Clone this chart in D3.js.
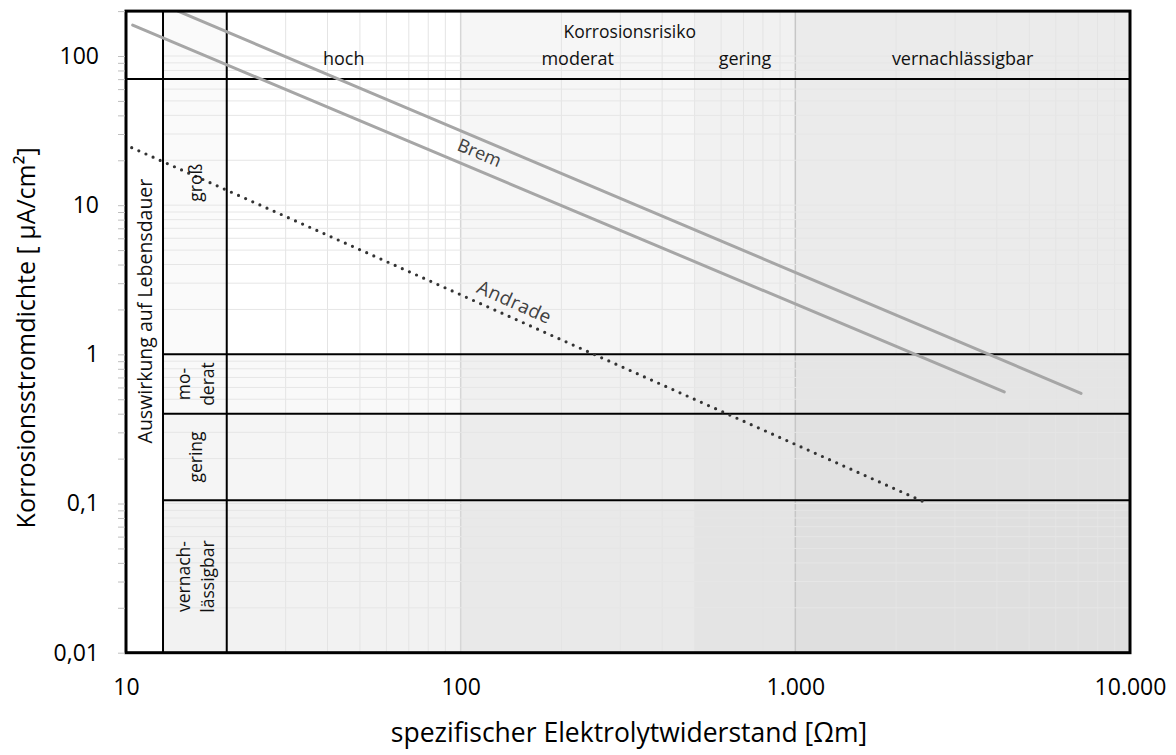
<!DOCTYPE html>
<html>
<head>
<meta charset="utf-8">
<script src="https://cdn.jsdelivr.net/npm/d3@7"></script>
<style>
    body { margin: 0; background: #fff; }
    svg { font-family: "Open Sans", sans-serif; }
</style>
</head>
<body>
<svg id="chart" width="1176" height="755"></svg>
<script>

// ---- data ----
const xDomain = [10, 10000];
const yDomain = [0.01, 200];

const xTicks = [10, 100, 1000, 10000];
const xTickLabels = ["10", "100", "1.000", "10.000"];
const yTicks = [0.01, 0.1, 1, 10, 100];
const yTickLabels = ["0,01", "0,1", "1", "10", "100"];

// Korrosionsrisiko (columns, by resistivity)
const riskNames = ["hoch", "moderat", "gering", "vernachlässigbar"];
const riskBounds = [20, 100, 500, 1000, 10000];

// Auswirkung auf Lebensdauer (rows, by current density)
const lifeNames = [["groß"], ["mo-", "derat"], ["gering"], ["vernach-", "lässigbar"]];
const lifeBounds = [200, 1, 0.4, 0.105, 0.01];

const headerLimit = 70;          // lower edge of the header band
const columnBounds = [12.9, 20]; // label column for the rows

// curves (resistivity Ωm, current density µA/cm²)
const bremUpper = [{ r: 14.3, i: 200 }, { r: 7140, i: 0.548 }];
const bremLower = [{ r: 10.47, i: 161 }, { r: 4210, i: 0.56 }];
const andrade = [{ r: 10.4, i: 24.3 }, { r: 2510, i: 0.099 }];

// ---- styles ----
const riskShade = [0, 0.035, 0.055, 0.078];
const lifeShade = [0, 0.025, 0.04, 0.05];

const svg = d3.select("#chart");

const x = d3.scaleLog().domain(xDomain).range([126, 1130]);
const y = d3.scaleLog().domain(yDomain).range([652.7, 11.1]);

const pLeft = x(xDomain[0]), pRight = x(xDomain[1]);
const pTop = y(yDomain[1]), pBottom = y(yDomain[0]);

svg.append("defs").append("clipPath").attr("id", "plot-clip")
    .append("rect")
    .attr("x", pLeft).attr("y", pTop)
    .attr("width", pRight - pLeft).attr("height", pBottom - pTop);

// plot background
svg.append("rect")
    .attr("x", pLeft).attr("y", pTop)
    .attr("width", pRight - pLeft).attr("height", pBottom - pTop)
    .attr("fill", "#fff");

// column shading (risk)
riskNames.forEach((name, k) => {
    svg.append("rect")
        .attr("x", x(riskBounds[k]))
        .attr("y", pTop)
        .attr("width", x(riskBounds[k + 1]) - x(riskBounds[k]))
        .attr("height", pBottom - pTop)
        .attr("fill", "#000")
        .attr("fill-opacity", riskShade[k]);
});

// row shading (lifetime)
lifeNames.forEach((name, k) => {
    let y0 = k === 0 ? y(headerLimit) : y(lifeBounds[k]);
    svg.append("rect")
        .attr("x", x(columnBounds[0]))
        .attr("y", y0)
        .attr("width", pRight - x(columnBounds[0]))
        .attr("height", y(lifeBounds[k + 1]) - y0)
        .attr("fill", "#000")
        .attr("fill-opacity", lifeShade[k]);
});

// the "groß" label cell is lightly tinted
svg.append("rect")
    .attr("x", x(columnBounds[0]))
    .attr("y", pTop)
    .attr("width", x(columnBounds[1]) - x(columnBounds[0]))
    .attr("height", y(lifeBounds[1]) - pTop)
    .attr("fill", "#000")
    .attr("fill-opacity", 0.02);

// gridlines
let minorX = [];
for (let d = 10; d < 10000; d *= 10) for (let m = 1; m < 10; m++) minorX.push(d * m);
minorX.push(10000);
let minorY = [];
for (let d = 0.01; d < 200; d *= 10) for (let m = 1; m < 10; m++) if (d * m <= 200) minorY.push(+(d * m).toPrecision(3));

const grid = svg.append("g").attr("class", "grid");
grid.selectAll(".gx")
    .data(minorX.filter(v => x(v) > x(columnBounds[0]) + 1))
    .join("line")
    .attr("x1", d => x(d)).attr("x2", d => x(d))
    .attr("y1", pTop).attr("y2", pBottom)
    .attr("stroke", d => d === 100 ? "#d6d6d6" : d === 1000 ? "#c6c6c6" : "#e4e4e4")
    .attr("stroke-width", d => (d === 100 || d === 1000) ? 1.5 : 1);

grid.selectAll(".gy")
    .data(minorY)
    .join("line")
    .attr("x1", x(columnBounds[0])).attr("x2", pRight)
    .attr("y1", d => y(d)).attr("y2", d => y(d))
    .attr("stroke", "#e6e6e6")
    .attr("stroke-width", 1);

// black frame lines of the table
const frame = svg.append("g").attr("stroke", "#000").attr("fill", "none");
frame.append("line")
    .attr("x1", pLeft).attr("x2", pRight)
    .attr("y1", y(headerLimit)).attr("y2", y(headerLimit))
    .attr("stroke-width", 2);
columnBounds.forEach(v => {
    frame.append("line")
        .attr("x1", x(v)).attr("x2", x(v))
        .attr("y1", pTop).attr("y2", pBottom)
        .attr("stroke-width", 2);
});
lifeBounds.slice(1, 4).forEach(v => {
    frame.append("line")
        .attr("x1", x(columnBounds[0])).attr("x2", pRight)
        .attr("y1", y(v)).attr("y2", y(v))
        .attr("stroke-width", 2);
});

// curves
const line = d3.line().x(d => x(d.r)).y(d => y(d.i));
const curves = svg.append("g").attr("clip-path", "url(#plot-clip)");

[bremUpper, bremLower].forEach(data => {
    curves.append("path")
        .datum(data)
        .attr("d", line)
        .attr("fill", "none")
        .attr("stroke", "#a6a6a6")
        .attr("stroke-width", 3)
        .attr("stroke-linecap", "round");
});

curves.append("path")
    .datum(andrade)
    .attr("d", line)
    .attr("fill", "none")
    .attr("stroke", "#333")
    .attr("stroke-width", 3.2)
    .attr("stroke-linecap", "round")
    .attr("stroke-dasharray", "0,7.8");

// curve labels, rotated to follow the lines
function angleOf(data) {
    let dx = x(data[1].r) - x(data[0].r);
    let dy = y(data[1].i) - y(data[0].i);
    return Math.atan2(dy, dx) * 180 / Math.PI;
}

svg.append("text")
    .attr("transform", `translate(${x(114)}, ${y(22.7)}) rotate(${angleOf(bremLower)})`)
    .attr("text-anchor", "middle")
    .attr("dominant-baseline", "central")
    .attr("fill", "#404040")
    .style("font-size", "18px")
    .text("Brem");

svg.append("text")
    .attr("transform", `translate(${x(145)}, ${y(2.25)}) rotate(${angleOf(andrade)})`)
    .attr("text-anchor", "middle")
    .attr("dominant-baseline", "central")
    .attr("fill", "#404040")
    .style("font-size", "19px")
    .style("letter-spacing", "0.5px")
    .text("Andrade");

// header band labels
svg.append("text")
    .attr("x", x(320)).attr("y", 38)
    .attr("text-anchor", "middle")
    .attr("fill", "#111")
    .style("font-size", "17.5px")
    .text("Korrosionsrisiko");

riskNames.forEach((name, k) => {
    svg.append("text")
        .attr("x", x(Math.sqrt(riskBounds[k] * riskBounds[k + 1])))
        .attr("y", 65)
        .attr("text-anchor", "middle")
        .attr("fill", "#111")
        .style("font-size", "18px")
        .text(name);
});

// row labels (rotated)
const colMid = x(Math.sqrt(columnBounds[0] * columnBounds[1]));
lifeNames.forEach((lines, k) => {
    const cy = y(Math.sqrt(lifeBounds[k] * lifeBounds[k + 1]));
    lines.forEach((txt, j) => {
        const off = (j - (lines.length - 1) / 2) * 24;
        svg.append("text")
            .attr("transform", `translate(${colMid + off}, ${cy}) rotate(-90)`)
            .attr("text-anchor", "middle")
            .attr("dominant-baseline", "central")
            .attr("fill", "#111")
            .style("font-size", "17.5px")
            .text(txt);
    });
});

svg.append("text")
    .attr("transform", `translate(${(pLeft + x(columnBounds[0])) / 2}, ${y(1.95)}) rotate(-90)`)
    .attr("text-anchor", "middle")
    .attr("dominant-baseline", "central")
    .attr("fill", "#111")
    .style("font-size", "19.5px")
    .text("Auswirkung auf Lebensdauer");

// outer border
svg.append("rect")
    .attr("x", pLeft).attr("y", pTop)
    .attr("width", pRight - pLeft).attr("height", pBottom - pTop)
    .attr("fill", "none")
    .attr("stroke", "#000")
    .attr("stroke-width", 3);

// axes
const yAxis = d3.axisLeft(y)
    .tickValues(minorY)
    .tickSizeInner(7)
    .tickSizeOuter(0)
    .tickPadding(19)
    .tickFormat(d => {
        let k = yTicks.indexOf(d);
        return k >= 0 ? yTickLabels[k] : "";
    });

svg.append("g")
    .attr("transform", `translate(${pLeft - 1}, 0)`)
    .call(yAxis)
    .call(g => g.select(".domain").remove())
    .call(g => g.selectAll(".tick line").attr("stroke", "#bfbfbf"))
    .call(g => g.selectAll(".tick text")
        .attr("fill", "#000")
        .style("font-size", "23px")
        .style("font-family", "Open Sans, sans-serif"));

const xAxis = d3.axisBottom(x)
    .tickValues(xTicks)
    .tickSize(0)
    .tickPadding(26)
    .tickFormat((d, k) => xTickLabels[k]);

svg.append("g")
    .attr("transform", `translate(0, ${pBottom})`)
    .call(xAxis)
    .call(g => g.select(".domain").remove())
    .call(g => g.selectAll(".tick text")
        .attr("fill", "#000")
        .style("font-size", "23px")
        .style("font-family", "Open Sans, sans-serif"));

// axis titles
svg.append("text")
    .attr("x", (pLeft + pRight) / 2 + 1)
    .attr("y", 742)
    .attr("text-anchor", "middle")
    .attr("fill", "#000")
    .style("font-size", "26.5px")
    .text("spezifischer Elektrolytwiderstand [Ωm]");

svg.append("text")
    .attr("transform", `translate(35, ${(pTop + pBottom) / 2 + 6}) rotate(-90)`)
    .attr("text-anchor", "middle")
    .attr("fill", "#000")
    .style("font-size", "25px")
    .text("Korrosionsstromdichte [ µA/cm²]");

</script>
</body>
</html>
